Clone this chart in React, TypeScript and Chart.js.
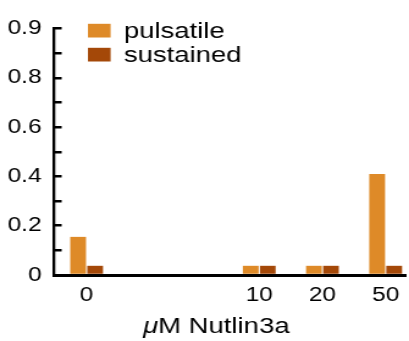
import React, { useEffect, useRef } from 'react';
import { Chart, registerables } from 'chart.js';

Chart.register(...registerables);

// ---- data ----
const categories = ['0', '10', '20', '50'];
const categorySlots = [0, 2.73, 3.73, 4.73];
const seriesLabels = ['pulsatile', 'sustained'];
const pulsatile = [0.155, 0.038, 0.038, 0.41];
const sustained = [0.038, 0.038, 0.038, 0.038];
const yTickValues = [0, 0.1, 0.2, 0.3, 0.4, 0.5, 0.6, 0.7, 0.8, 0.9, 1.0];
const yTickLabels = ['0', '', '0.2', '', '0.4', '', '0.6', '', '0.8', '', '0.9'];
const xTitleItalic = 'μ';
const xTitleRest = 'M Nutlin3a';

// ---- styling ----
const seriesColors = ['#DE8A28', '#A44808'];
const FONT = "'Liberation Sans', Arial, Helvetica, sans-serif";
const W = 409;
const H = 341;
const STRETCH = 1.22;
const IW = Math.round(W / STRETCH);

const toPoints = (vals: number[]) => vals.map((v, i) => ({ x: categorySlots[i], y: v }));

const legendAndTitle = {
  id: 'legendAndTitle',
  afterDraw(chart: any) {
    const { ctx, chartArea } = chart;
    ctx.save();
    // legend
    const bx = chartArea.left + 28;
    const rows = [37.5, 61.5];
    chart.data.datasets.forEach((ds: any, i: number) => {
      const base = rows[i];
      ctx.fillStyle = ds.backgroundColor;
      ctx.fillRect(bx, base - 13.7, 18.6, 13.7);
      ctx.fillStyle = '#000';
      ctx.font = `22.5px ${FONT}`;
      ctx.textBaseline = 'alphabetic';
      ctx.textAlign = 'left';
      ctx.fillText(ds.label, bx + 29.5, base);
    });
    // x-axis title
    ctx.font = `italic 22.5px ${FONT}`;
    const w1 = ctx.measureText(xTitleItalic).width;
    ctx.font = `22.5px ${FONT}`;
    const w2 = ctx.measureText(xTitleRest).width;
    const cx = (chartArea.left + chartArea.right) / 2 - 11;
    const x0 = cx - (w1 + w2) / 2;
    ctx.fillStyle = '#000';
    ctx.textBaseline = 'alphabetic';
    ctx.font = `italic 22.5px ${FONT}`;
    ctx.fillText(xTitleItalic, x0, 333);
    ctx.font = `22.5px ${FONT}`;
    ctx.fillText(xTitleRest, x0 + w1, 333);
    ctx.restore();
  },
};

export default function App() {
  const canvasRef = useRef<HTMLCanvasElement | null>(null);

  useEffect(() => {
    document.body.style.margin = '0';
    const canvas = canvasRef.current;
    if (!canvas) return;
    const barStyle = {
      borderColor: '#ffffff',
      borderWidth: { left: 0.82, right: 0.82, top: 0, bottom: 0 },
      borderSkipped: false,
      barThickness: 13.93,
    };
    const chart = new Chart(canvas, {
      type: 'bar',
      data: {
        datasets: [
          { label: seriesLabels[0], data: toPoints(pulsatile), backgroundColor: seriesColors[0], ...barStyle },
          { label: seriesLabels[1], data: toPoints(sustained), backgroundColor: seriesColors[1], ...barStyle },
        ],
      } as any,
      options: {
        animation: false,
        responsive: false,
        devicePixelRatio: 1,
        layout: { padding: { left: 0, right: 0, top: 22.5, bottom: 0 } },
        plugins: { legend: { display: false }, tooltip: { enabled: false } },
        scales: {
          x: {
            type: 'linear',
            offset: false,
            min: -0.52,
            max: 5.05,
            z: 1,
            afterBuildTicks: (s: any) => {
              s.ticks = categorySlots.map((v) => ({ value: v }));
            },
            afterFit: (s: any) => {
              s.height = 66;
            },
            ticks: {
              callback: (_v: any, i: number) => categories[i],
              autoSkip: false,
              maxRotation: 0,
              padding: 8,
              color: '#000',
              font: { family: FONT, size: 20 },
            },
            grid: { display: false, drawTicks: false, offset: false },
            border: { display: true, color: '#000', width: 3 },
          },
          y: {
            min: 0,
            max: 1.0,
            z: 1,
            afterBuildTicks: (s: any) => {
              s.ticks = yTickValues.map((v) => ({ value: v }));
            },
            afterFit: (s: any) => {
              s.width = 44;
            },
            ticks: {
              callback: (_v: any, i: number) => yTickLabels[i],
              autoSkip: false,
              padding: 16.5,
              color: '#000',
              font: { family: FONT, size: 20 },
            },
            grid: { drawOnChartArea: false, tickLength: -6.5, lineWidth: 2.5, color: '#000' },
            border: { display: true, color: '#000', width: 2.3 },
          },
        },
      } as any,
      plugins: [legendAndTitle],
    });
    return () => chart.destroy();
  }, []);

  return (
    <div style={{ width: W, height: H, overflow: 'hidden', position: 'relative', background: '#fff' }}>
      <div style={{ width: IW, height: H, transform: `scaleX(${W / IW})`, transformOrigin: '0 0' }}>
        <canvas ref={canvasRef} width={IW} height={H} style={{ display: 'block', width: IW, height: H }} />
      </div>
    </div>
  );
}
